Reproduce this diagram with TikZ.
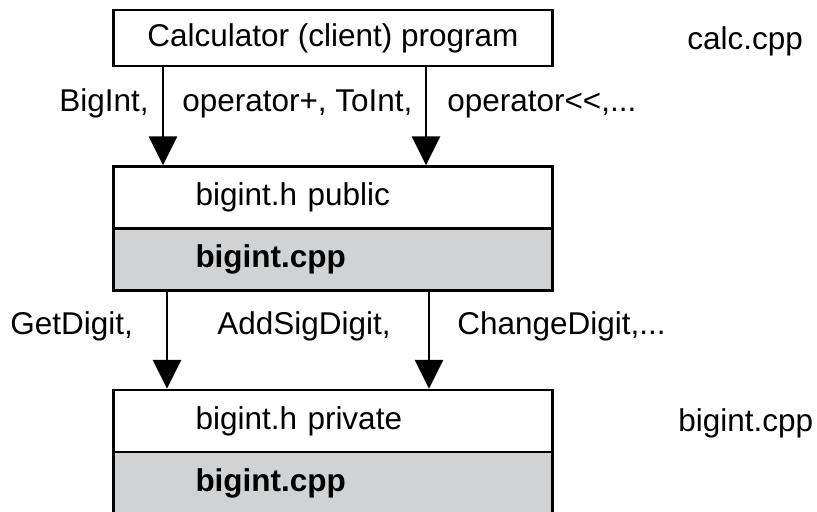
\documentclass[tikz,border=0pt]{standalone}
\usepackage{fontspec}
\setmainfont{Liberation Sans}
\usetikzlibrary{arrows.meta}

\definecolor{cppgris}{RGB}{209,210,212}

\begin{document}
\begin{tikzpicture}[every node/.style={font=\fontsize{22.4}{26}\selectfont},
    cliente/.style={draw, line width=2pt, minimum width=10.975cm, minimum height=1.4cm},
    caja/.style={draw, line width=2pt, minimum width=10.975cm, minimum height=1.55cm,
      text width=6.875cm, inner xsep=2.05cm, inner ysep=0pt, align=left},
    etiqueta/.style={anchor=base west, inner sep=0pt},
    flecha/.style={-{Triangle[width=0.7cm,length=0.72cm]}, line width=2pt}]
  \useasboundingbox (0,0) rectangle (20.425,12.8);

  % Cajas
  \node[cliente] (calc) at (8.325,11.85) {Calculator (client) program};
  \node[caja] (pubh) at (8.325,7.8625) {bigint.h public};
  \node[caja, fill=cppgris] (pubcpp) at (8.325,6.3125) {\textbf{bigint.cpp}};
  \node[caja] (privh) at (8.325,2.275) {bigint.h private};
  \node[caja, fill=cppgris] (privcpp) at (8.325,0.725) {\textbf{bigint.cpp}};

  % Archivos
  \node[etiqueta] (calcfile) at (17.175,11.55) {calc.cpp};
  \node[etiqueta] (privfile) at (16.95,2.0) {bigint.cpp};

  % Etiquetas
  \node[etiqueta] (bigint) at (1.475,10) {BigInt,};
  \node[etiqueta] (opmas) at (4.55,10) {operator+, ToInt,};
  \node[etiqueta] (opsal) at (11.175,10) {operator<{}<,...};
  \node[etiqueta] (getd) at (0.25,4.425) {GetDigit,};
  \node[etiqueta] (addsig) at (5.425,4.425) {AddSigDigit,};
  \node[etiqueta] (changed) at (11.425,4.425) {ChangeDigit,...};

  % Flechas
  \draw[flecha] ([xshift=-4.25cm]calc.south) -- ([xshift=-4.25cm]pubh.north);
  \draw[flecha] ([xshift=2.325cm]calc.south) -- ([xshift=2.325cm]pubh.north);
  \draw[flecha] ([xshift=-4.15cm]pubcpp.south) -- ([xshift=-4.15cm]privh.north);
  \draw[flecha] ([xshift=2.4cm]pubcpp.south) -- ([xshift=2.4cm]privh.north);
\end{tikzpicture}
\end{document}
